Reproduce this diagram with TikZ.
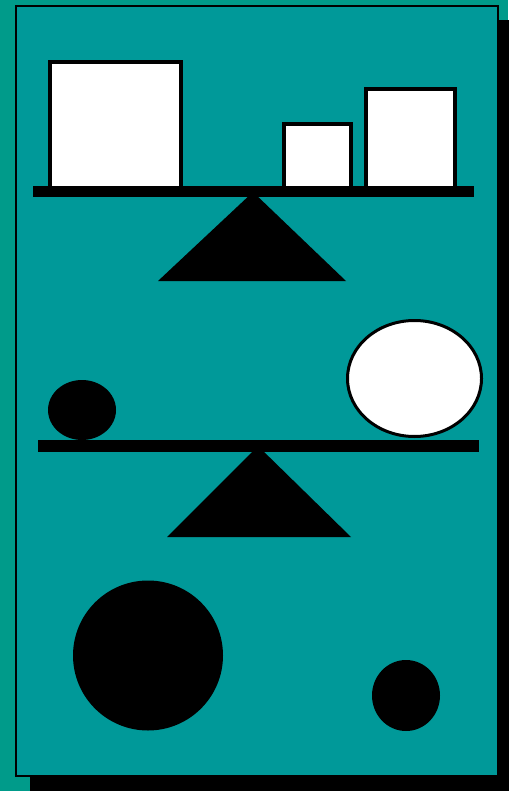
\documentclass[tikz,border=0pt]{standalone}
\definecolor{outerteal}{RGB}{0,155,138}
\definecolor{innerteal}{RGB}{0,153,153}
\tikzset{
  box/.style={fill=white,draw=black,line width=4pt,line join=miter},
  plank/.style={fill=black,draw=none},
  fulcrum/.style={fill=black,draw=none},
  ball/.style={fill=black,draw=none}
}
\begin{document}
\begin{tikzpicture}[x=1pt,y=-1pt]
\useasboundingbox (0,0) rectangle (508,791);
\fill[outerteal] (0,0) rectangle (508,791);
% shadow
\fill[black] (30,20) rectangle (520,800);
% panel
\draw[fill=innerteal,line width=2pt] (16,6) rectangle (498,776);
% top balance
\draw[box] (50,62) rectangle (181,188);
\draw[box] (284,124) rectangle (351,188);
\draw[box] (366,89) rectangle (455,188);
\fill[plank] (33,186) rectangle (474,197);
\fill[fulcrum] (253,192) -- (346,281) -- (158,281) -- cycle;
% middle balance
\fill[ball] (82,410) ellipse [x radius=34, y radius=30];
\draw[fill=white,line width=3pt] (414.5,378.5) ellipse [x radius=67, y radius=58];
\fill[plank] (38,440) rectangle (479,452);
\fill[fulcrum] (258,446) -- (351,537) -- (167,537) -- cycle;
% bottom balls
\fill[ball] (148,655.5) circle [radius=75];
\fill[ball] (406,695.5) ellipse [x radius=34, y radius=35.5];
\end{tikzpicture}
\end{document}
